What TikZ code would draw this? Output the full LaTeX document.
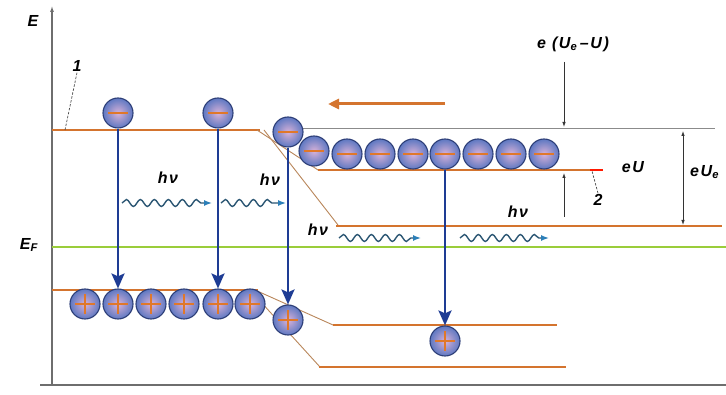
\documentclass[tikz,border=0pt]{standalone}
\usepackage{fontspec}
\setmainfont{Liberation Sans}
\newfontfamily\labfont[LetterSpace=10,BoldItalicFont={Liberation Sans Bold Italic}]{Liberation Sans}
\usetikzlibrary{arrows.meta,decorations.pathmorphing}
\definecolor{lvl}{HTML}{D4742E}
\definecolor{slant}{HTML}{B9865A}
\definecolor{fermi}{HTML}{9ACD3A}
\definecolor{axisc}{HTML}{6E6E6E}
\definecolor{trans}{HTML}{1E3C94}
\definecolor{wavec}{HTML}{2B5673}
\definecolor{wavetip}{HTML}{2C7FB8}
\definecolor{ballout}{HTML}{5E78C2}
\definecolor{ballin}{HTML}{D8B2D8}
\definecolor{ballrim}{HTML}{2E3F78}
\definecolor{signc}{HTML}{E0782A}
\begin{document}
\begin{tikzpicture}[x=1pt,y=-1pt,
  ball/.style={circle, draw=ballrim, line width=1.1pt, minimum size=30pt, inner sep=0pt,
    inner color=ballin, outer color=ballout},
  elec/.style={ball, path picture={\draw[signc,line width=1.4pt]
      ([xshift=-10pt]path picture bounding box.center) -- ([xshift=10pt]path picture bounding box.center);}},
  hole/.style={ball, path picture={\draw[signc,line width=1.2pt]
      ([xshift=-10pt]path picture bounding box.center) -- ([xshift=10pt]path picture bounding box.center)
      ([yshift=-10pt]path picture bounding box.center) -- ([yshift=10pt]path picture bounding box.center);}},
  level/.style={lvl, line width=2.4pt},
  slantline/.style={slant, line width=0.9pt},
  trarrow/.style={trans, line width=2.6pt, -{Stealth[length=15pt,width=13pt,inset=3pt]}},
  photon/.style={wavec, line width=1.4pt, decorate,
    decoration={snake, amplitude=3.5pt, segment length=14pt, post length=9pt},
    -{Latex[length=8pt,width=6pt,color=wavetip]}},
  lab/.style={font=\labfont\bfseries\itshape\fontsize{16}{18}\selectfont, inner sep=1pt},
  thin/.style={black!80, line width=0.8pt},
  leader/.style={black!70, line width=0.7pt, dash pattern=on 2.5pt off 1.5pt}
]
\useasboundingbox[fill=white] (0,0) rectangle (726,395);

% axes
\draw[axisc, line width=1.1pt, -{Latex[length=6pt,width=4pt]}] (52,386) -- (52,6);
\draw[axisc, line width=1.1pt] (40,385) -- (726,385);

% Fermi level
\draw[fermi, line width=2pt] (52,247) -- (726,247);

% top thin line
\draw[axisc!80, line width=1pt] (300,129) -- (715,129);

% conduction band
\draw[level] (52,130) -- (260,130);
\draw[slantline] (257,130) -- (318,170);
\draw[slantline] (264,130) -- (338,225);
\draw[level] (318,170) -- (603,170);
\draw[red!80!orange, line width=2.4pt] (590,170) -- (603,170);
\draw[level] (336,226) -- (722,226);

% valence band
\draw[level] (52,290) -- (258,290);
\draw[slantline] (255,290) -- (333,325);
\draw[slantline] (250,290) -- (320,367);
\draw[level] (333,325) -- (557,325);
\draw[level] (319,367) -- (566,367);

% electrons
\node[elec] (e1) at (118,113) {};
\node[elec] (e2) at (218,113) {};
\node[elec] (e3) at (288,132) {};
\node[elec] (e4) at (314,151) {};
\node[elec] (e5) at (347,154) {};
\node[elec] (e6) at (380,154) {};
\node[elec] (e7) at (413,154) {};
\node[elec] (e8) at (445,154) {};
\node[elec] (e9) at (478,154) {};
\node[elec] (e10) at (511,154) {};
\node[elec] (e11) at (544,154) {};

% holes
\node[hole] (h1) at (85,304) {};
\node[hole] (h2) at (118,304) {};
\node[hole] (h3) at (151,304) {};
\node[hole] (h4) at (184,304) {};
\node[hole] (h5) at (218,304) {};
\node[hole] (h6) at (250,304) {};
\node[hole] (h7) at (288,320) {};
\node[hole] (h8) at (445,341) {};

% transitions
\draw[trarrow] (e1.south) -- (h2.north);
\draw[trarrow] (e2.south) -- (h5.north);
\draw[trarrow] (e3.south) -- (h7.north);
\draw[trarrow] (e8.south) -- (h8.north);

% photons
\coordinate (p1a) at (122,203); \coordinate (p1b) at (212,203);
\coordinate (p2a) at (221,203); \coordinate (p2b) at (286,203);
\coordinate (p3a) at (339,238); \coordinate (p3b) at (421,238);
\coordinate (p4a) at (460,238); \coordinate (p4b) at (549,238);
\draw[photon] (p1a) -- (p1b);
\draw[photon] (p2a) -- (p2b);
\draw[photon] (p3a) -- (p3b);
\draw[photon] (p4a) -- (p4b);
\node[lab] (hv1) at (168,178) {hν};
\node[lab] (hv2) at (270,180) {hν};
\node[lab] (hv3) at (318,230) {hν};
\node[lab] (hv4) at (518,212) {hν};

% field arrow
\coordinate (fa) at (445,104); \coordinate (fb) at (328,104);
\draw[lvl, line width=3pt, -{Triangle[length=11pt,width=10pt]}] (fa) -- (fb);

% labels
\node[lab] (E) at (33,21) {E};
\node[lab] (EF) at (29,245) {E\textsubscript{F}};
\node[lab] (one) at (77,66) {1};
\coordinate (one1) at (65,130);
\draw[leader] (one.south) -- (one1);
\node[lab] (two) at (598,200) {2};
\coordinate (two1) at (592,171);
\draw[leader] (two.north) -- (two1);

\node[lab] (eUeU) at (573,44) {e (U\textsubscript{e}\,–U)};
\coordinate (t0) at (564,62);
\coordinate (t1) at (564,127);
\draw[thin, -{Latex[length=5pt,width=3.5pt]}] (t0) -- (t1);
\node[lab] (eU) at (633,167) {eU};
\coordinate (u1) at (564,217); \coordinate (u2) at (564,173);
\draw[thin, -{Latex[length=5pt,width=3.5pt]}] (u1) -- (u2);
\node[lab, anchor=west] (eUe) at (689,172) {eU\textsubscript{e}};
\coordinate (d1) at (683,131); \coordinate (d2) at (683,225);
\draw[thin, {Latex[length=5pt,width=3.5pt]}-{Latex[length=5pt,width=3.5pt]}] (d1) -- (d2);
\end{tikzpicture}
\end{document}
